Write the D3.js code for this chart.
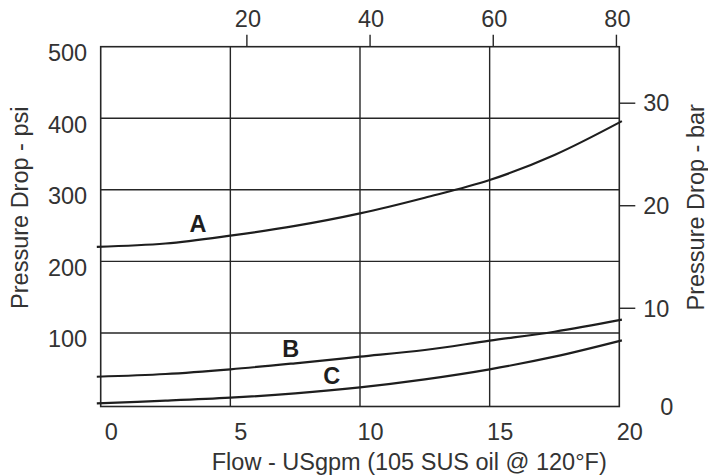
<!DOCTYPE html>
<html>
<head>
<meta charset="utf-8">
<script src="https://cdn.jsdelivr.net/npm/d3@7"></script>
<style>
  html, body { margin: 0; padding: 0; background: #fff; }
  svg { display: block; }
  text { font-family: "Liberation Sans", Arial, Helvetica, sans-serif; fill: #333; }
</style>
</head>
<body>
<svg id="chart" width="708" height="476"></svg>
<script>
// ---- data ----
const flowGpm = [-0.15, 2.5, 5, 7.5, 10, 12.5, 15, 17.5, 20.1];
const curveA = [220.3, 225, 236, 249.5, 267, 289, 313.7, 348.7, 396];
const curveB = [38.8, 42.6, 49.2, 57.6, 66.8, 76.2, 89.2, 101.7, 118.5];
const curveC = [1.7, 5.3, 9.5, 15.6, 24, 35.2, 49.2, 66.8, 89.6];
const seriesNames = ["A", "B", "C"];
const labelFlow = [3.75, 7.33, 8.91];
const labelPsi = [241.5, 66.6, 28.6];

const bottomTicks = [0, 5, 10, 15, 20];          // USgpm
const topTicks = [20, 40, 60, 80];               // L/min
const leftTicks = [100, 200, 300, 400, 500];     // psi
const rightTicks = [0, 10, 20, 30];              // bar
const gridX = [5, 10, 15];
const gridY = [100, 200, 300, 400];

const xTitle = "Flow - USgpm (105 SUS oil @ 120°F)";
const yTitle = "Pressure Drop - psi";
const y2Title = "Pressure Drop - bar";

// ---- scales ----
const svg = d3.select("#chart");
const x = d3.scaleLinear().domain([0, 20]).range([100.7, 619.3]);
const y = d3.scaleLinear().domain([0, 500]).range([404.5, 46.7]);
const xTop = d3.scaleLinear().domain([0, 80]).range([x(0.868), x(19.87)]);
const yBar = d3.scaleLinear().domain([0, 30]).range([410.3, 102.7]);

const ink = "#262626";
const fs = 23.5;

// grid
svg.append("g").selectAll("line").data(gridX).join("line")
  .attr("x1", d => x(d)).attr("x2", d => x(d))
  .attr("y1", y(500)).attr("y2", y(0) + 2)
  .attr("stroke", ink).attr("stroke-width", 1.4);
svg.append("g").selectAll("line").data(gridY).join("line")
  .attr("x1", x(0)).attr("x2", x(20))
  .attr("y1", d => y(d)).attr("y2", d => y(d))
  .attr("stroke", ink).attr("stroke-width", 1.4);

// frame
svg.append("rect")
  .attr("x", x(0)).attr("y", y(500))
  .attr("width", x(20) - x(0)).attr("height", y(0) + 2 - y(500))
  .attr("fill", "none").attr("stroke", ink).attr("stroke-width", 1.6);

// curves
const line = d3.line().x(d => x(d[0])).y(d => y(d[1])).curve(d3.curveCatmullRom.alpha(0.5));
[curveA, curveB, curveC].forEach(vals => {
  svg.append("path")
    .attr("d", line(flowGpm.map((f, i) => [f, vals[i]])))
    .attr("fill", "none").attr("stroke", "#1e1e1e").attr("stroke-width", 2.2);
});

// curve labels
svg.append("g").selectAll("text").data(seriesNames).join("text")
  .attr("x", (d, i) => x(labelFlow[i])).attr("y", (d, i) => y(labelPsi[i]))
  .attr("text-anchor", "middle")
  .style("font-size", fs + "px").style("font-weight", "bold").style("fill", "#1e1e1e")
  .text(d => d);

// bottom axis (labels only)
const gB = svg.append("g").attr("transform", `translate(0,${y(0) + 2})`)
  .call(d3.axisBottom(x).tickValues(bottomTicks).tickSize(0).tickPadding(0).tickFormat(d3.format("d")));
gB.select(".domain").remove();
gB.selectAll("text").attr("dx", 10).attr("dy", 0).attr("y", 33.5)
  .style("font-size", fs + "px").attr("fill", null);

// left axis (labels only)
const gL = svg.append("g").attr("transform", `translate(${x(0)},0)`)
  .call(d3.axisLeft(y).tickValues(leftTicks).tickSize(0).tickPadding(13.5).tickFormat(d3.format("d")));
gL.select(".domain").remove();
gL.selectAll("text").attr("dy", 14).style("font-size", fs + "px").attr("fill", null);

// top axis (L/min)
const gT = svg.append("g").attr("transform", `translate(0,${y(500)})`)
  .call(d3.axisTop(xTop).tickValues(topTicks).tickSizeInner(12).tickSizeOuter(0).tickPadding(8).tickFormat(d3.format("d")));
gT.select(".domain").remove();
gT.selectAll("line").attr("stroke", ink).attr("stroke-width", 1.4);
gT.selectAll("text").attr("dx", 1).style("font-size", fs + "px").attr("fill", null);

// right axis (bar)
const gR = svg.append("g").attr("transform", `translate(${x(20)},0)`)
  .call(d3.axisRight(yBar).tickValues(rightTicks).tickSizeInner(16).tickSizeOuter(0).tickPadding(8).tickFormat(d3.format("d")));
gR.select(".domain").remove();
gR.selectAll("line").attr("stroke", ink).attr("stroke-width", 1.4);
gR.selectAll("text").attr("dy", "0.35em").style("font-size", fs + "px").attr("fill", null);
gR.selectAll(".tick").filter(d => d === 0).select("line").remove();
gR.selectAll(".tick").filter(d => d === 0).select("text").attr("dx", 17).attr("dy", "0.17em");

// titles
svg.append("text")
  .attr("x", x(11.9)).attr("y", 470).attr("text-anchor", "middle")
  .style("font-size", fs + "px").text(xTitle);
svg.append("text")
  .attr("transform", `translate(28,${y(275)}) rotate(-90)`).attr("text-anchor", "middle")
  .style("font-size", fs + "px").text(yTitle);
svg.append("text")
  .attr("transform", `translate(704,${yBar(19.8)}) rotate(-90)`).attr("text-anchor", "middle")
  .style("font-size", fs + "px").text(y2Title);
</script>
</body>
</html>
